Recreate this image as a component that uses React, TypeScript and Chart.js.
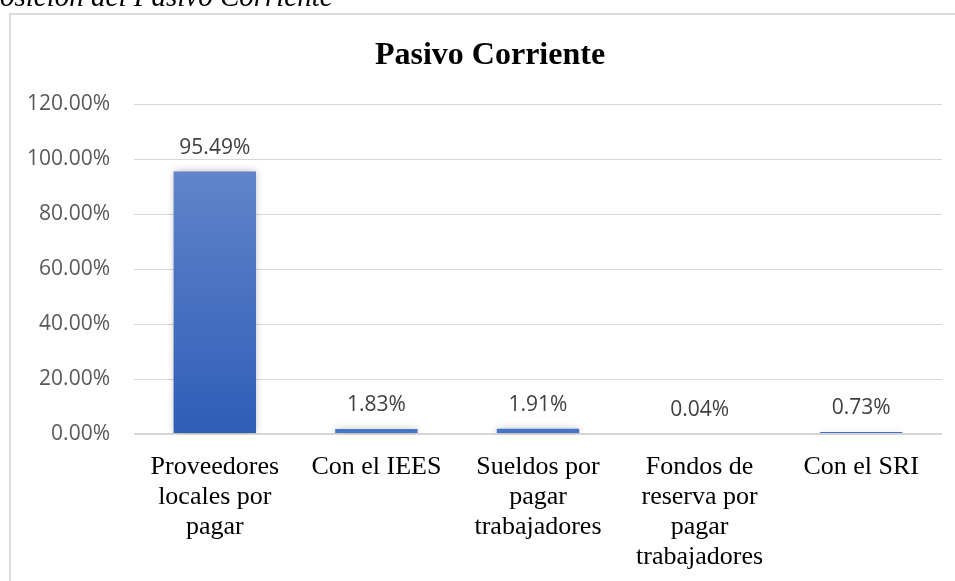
import React, { useEffect, useRef } from "react";
import { Chart, registerables } from "chart.js";

Chart.register(...registerables);

const categories: string[][] = [
  ["Proveedores", "locales por", "pagar"],
  ["Con el IEES"],
  ["Sueldos por", "pagar", "trabajadores"],
  ["Fondos de", "reserva por", "pagar", "trabajadores"],
  ["Con el SRI"],
];
const values: number[] = [95.49, 1.83, 1.91, 0.04, 0.73];
const yTicks: number[] = [0, 20, 40, 60, 80, 100, 120];
const chartTitle = "Pasivo Corriente";
const caption = "Composición del Pasivo Corriente";

const SERIF = "'Liberation Serif', 'Times New Roman', serif";
const SANS = "'Open Sans', 'Liberation Sans', sans-serif";

const decorPlugin = {
  id: "decor",
  beforeDraw(chart: any) {
    const ctx = chart.ctx;
    ctx.save();
    ctx.fillStyle = "#ffffff";
    ctx.fillRect(0, 0, chart.width, chart.height);
    // frame
    ctx.strokeStyle = "#d9d9d9";
    ctx.lineWidth = 2;
    ctx.strokeRect(10, 14, 1000, 700);
    // caption (partially cut off)
    ctx.font = `italic 29px ${SERIF}`;
    ctx.fillStyle = "#000000";
    ctx.textBaseline = "alphabetic";
    ctx.textAlign = "left";
    const off = ctx.measureText("Comp").width;
    ctx.fillText(caption, -off, 6);
    // title
    ctx.font = `bold 32px ${SERIF}`;
    ctx.textAlign = "center";
    ctx.fillText(chartTitle, 490, 64);
    ctx.restore();
  },
  beforeDatasetsDraw(chart: any) {
    const ctx = chart.ctx;
    ctx.save();
    ctx.shadowColor = "rgba(0,0,0,0.28)";
    ctx.shadowBlur = 7;
    ctx.shadowOffsetX = 0;
    ctx.shadowOffsetY = 0;
  },
  afterDatasetsDraw(chart: any) {
    const ctx = chart.ctx;
    ctx.restore();
    ctx.save();
    ctx.font = `21px ${SANS}`;
    ctx.fillStyle = "#404040";
    ctx.textAlign = "center";
    ctx.textBaseline = "alphabetic";
    const meta = chart.getDatasetMeta(0);
    meta.data.forEach((el: any, i: number) => {
      const v = chart.data.datasets[0].data[i] as number;
      ctx.fillText(v.toFixed(2) + "%", el.x, el.y - 17.5);
    });
    ctx.restore();
  },
};

export default function App() {
  const ref = useRef<HTMLCanvasElement | null>(null);

  useEffect(() => {
    if (!ref.current) return;
    const chart = new Chart(ref.current, {
      type: "bar",
      data: {
        labels: categories as any,
        datasets: [
          {
            data: values,
            barPercentage: 0.51,
            categoryPercentage: 1,
            borderWidth: 0,
            backgroundColor: (c: any) => {
              const ch = c.chart;
              const sy = ch.scales?.y;
              if (!ch.chartArea || !sy || c.raw === undefined) return "#4472C4";
              const top = sy.getPixelForValue(c.raw);
              const bottom = sy.getPixelForValue(0);
              if (bottom - top < 0.5) return "rgba(0,0,0,0)";
              if (bottom - top < 8) return "#4675C8";
              const g = ch.ctx.createLinearGradient(0, top, 0, bottom);
              g.addColorStop(0, "#6284CA");
              g.addColorStop(1, "#2E5DB7");
              return g;
            },
          },
        ],
      },
      options: {
        animation: false,
        responsive: false,
        devicePixelRatio: 1,
        layout: { padding: { left: 10, right: 13, top: 104, bottom: 0 } },
        plugins: {
          legend: { display: false },
          title: { display: false },
          tooltip: { enabled: false },
        },
        scales: {
          x: {
            grid: { display: false, drawTicks: false },
            border: { display: false },
            ticks: {
              autoSkip: false,
              maxRotation: 0,
              minRotation: 0,
              padding: 18,
              color: "#000000",
              font: { family: SERIF, size: 26, lineHeight: 30 / 26 },
            },
            afterFit: (s: any) => {
              s.height = 147;
            },
          },
          y: {
            min: 0,
            max: 120,
            afterBuildTicks: (s: any) => {
              s.ticks = yTicks.map((v) => ({ value: v }));
            },
            grid: {
              color: "#d6d6d6",
              lineWidth: (c: any) => (c.tick && c.tick.value === 0 ? 2 : 1),
              drawTicks: false,
            },
            border: { display: false },
            ticks: {
              padding: 24,
              color: "#595959",
              font: { family: SANS, size: 21 },
              callback: (v: any) => Number(v).toFixed(2) + "%",
            },
            afterFit: (s: any) => {
              s.width = 124;
            },
          },
        },
      },
      plugins: [decorPlugin],
    });
    return () => chart.destroy();
  }, []);

  return (
    <canvas
      ref={ref}
      width={955}
      height={581}
      style={{ position: "fixed", left: 0, top: 0, width: 955, height: 581, display: "block" }}
    />
  );
}
